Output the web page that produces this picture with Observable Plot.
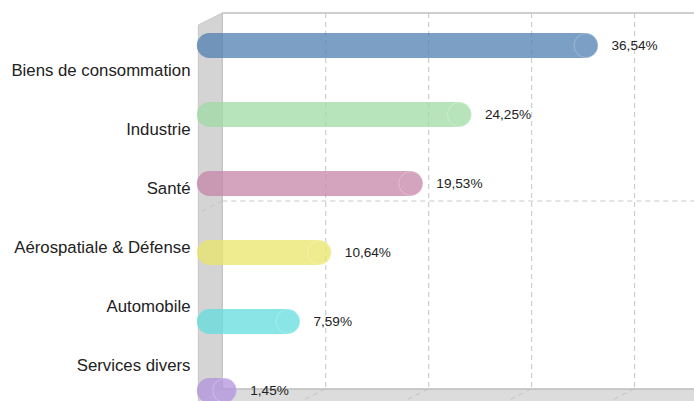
<!DOCTYPE html>
<html>
<head>
<meta charset="utf-8">
<script src="https://cdn.jsdelivr.net/npm/d3@7"></script>
<script src="https://cdn.jsdelivr.net/npm/@observablehq/plot@0.6"></script>
<style>
  html, body { margin: 0; padding: 0; background: #fff; }
  #chart { position: relative; width: 694px; height: 401px; overflow: hidden; }
  #chart svg { position: absolute; left: 0; top: 0; overflow: visible; }
</style>
</head>
<body>
<div id="chart"></div>
<script>
const categories = ["Biens de consommation", "Industrie", "Santé", "Aérospatiale & Défense", "Automobile", "Services divers"];
const values = [36.54, 24.25, 19.53, 10.64, 7.59, 1.45];
const valueLabels = ["36,54%", "24,25%", "19,53%", "10,64%", "7,59%", "1,45%"];
const colors = ["#4f7fb2", "#a0dba6", "#c684a8", "#e8e668", "#63dede", "#b293de"];
const gridTicks = [10, 20, 30, 40];

(function () {
const W = 694, H = 401;
const FONT = "'Liberation Sans', Arial, sans-serif";
const DEPTH_X = 24, DEPTH_Y = 12, BACK_OFFSET = 13;

const data = categories.map((c, i) => ({category: c, value: values[i], label: valueLabels[i], color: colors[i]}));

const chart = Plot.plot({
  width: W, height: H,
  marginLeft: 209.3, marginRight: 0, marginTop: 13, marginBottom: 12,
  style: {fontFamily: FONT, background: "transparent"},
  x: {domain: [0, 47.08], axis: null},
  y: {type: "point", domain: categories, range: [44.5, 390], padding: 0, axis: null},
  color: {type: "identity"},
  marks: [
    Plot.ruleX(gridTicks, {dx: BACK_OFFSET, stroke: "#c4c4c4", strokeWidth: 1, strokeDasharray: "5,4"}),
    Plot.ruleY(data, {y: "category", x1: 0, x2: "value", stroke: "color", strokeWidth: 25, strokeLinecap: "round", strokeOpacity: 0.75}),
    Plot.dot(data, {x: "value", y: "category", r: 12, fill: "none", stroke: "white", strokeOpacity: 0.25, strokeWidth: 1}),
    Plot.text(data, {x: "value", y: "category", text: "label", dx: 25.5, textAnchor: "start", fontSize: 13.6, fill: "#222"})
  ]
});

// 3D walls (decorations drawn beneath the marks)
const xs = chart.scale("x");
const bx = xs.apply(0) + BACK_OFFSET;
const yTop = 13, yBottom = H - 12;
const svg = d3.select(chart);
const g = svg.insert("g", "g");
g.append("path")
  .attr("d", `M${bx - DEPTH_X},${yTop + DEPTH_Y}L${bx},${yTop}L${bx},${yBottom}L${bx - DEPTH_X},${yBottom + DEPTH_Y}Z`)
  .attr("fill", "#d4d4d4").attr("stroke", "#c6c6c6");
g.append("path")
  .attr("d", `M${bx - DEPTH_X},${yBottom + DEPTH_Y}L${bx},${yBottom}L${W},${yBottom}L${W},${yBottom + DEPTH_Y}Z`)
  .attr("fill", "#dcdcdc");
gridTicks.forEach(t => {
  const gx = xs.apply(t) + BACK_OFFSET;
  g.append("line").attr("x1", gx).attr("y1", yBottom).attr("x2", gx - DEPTH_X).attr("y2", yBottom + DEPTH_Y)
    .attr("stroke", "#c4c4c4").attr("stroke-dasharray", "5,4");
});
const midY = (yTop + yBottom) / 2;
g.append("line").attr("x1", bx).attr("y1", midY).attr("x2", W).attr("y2", midY)
  .attr("stroke", "#c8c8c8").attr("stroke-dasharray", "5,4");
g.append("line").attr("x1", bx).attr("y1", midY).attr("x2", bx - DEPTH_X).attr("y2", midY + DEPTH_Y)
  .attr("stroke", "#c4c4c4").attr("stroke-dasharray", "5,4");
g.append("line").attr("x1", bx).attr("y1", yTop).attr("x2", W).attr("y2", yTop)
  .attr("stroke", "#cfcfcf").attr("stroke-width", 2);
g.append("line").attr("x1", bx).attr("y1", yTop).attr("x2", bx).attr("y2", yBottom)
  .attr("stroke", "#c2c2c2").attr("stroke-width", 1);
g.append("line").attr("x1", bx).attr("y1", yBottom).attr("x2", W).attr("y2", yBottom)
  .attr("stroke", "#bdbdbd").attr("stroke-width", 1.5);

const labelsPlot = Plot.plot({
  width: W, height: H,
  marginLeft: 0, marginRight: W - 190, marginTop: 0, marginBottom: 0,
  style: {fontFamily: FONT, background: "transparent", pointerEvents: "none"},
  x: {axis: null},
  y: {type: "point", domain: categories, range: [69, 366.5], padding: 0, axis: null},
  marks: [
    Plot.text(categories, {y: d => d, text: d => d, frameAnchor: "right", textAnchor: "end", fontSize: 16.8, fill: "#222"})
  ]
});

const container = document.getElementById("chart");
container.appendChild(chart);
container.appendChild(labelsPlot);
})();
</script>
</body>
</html>
